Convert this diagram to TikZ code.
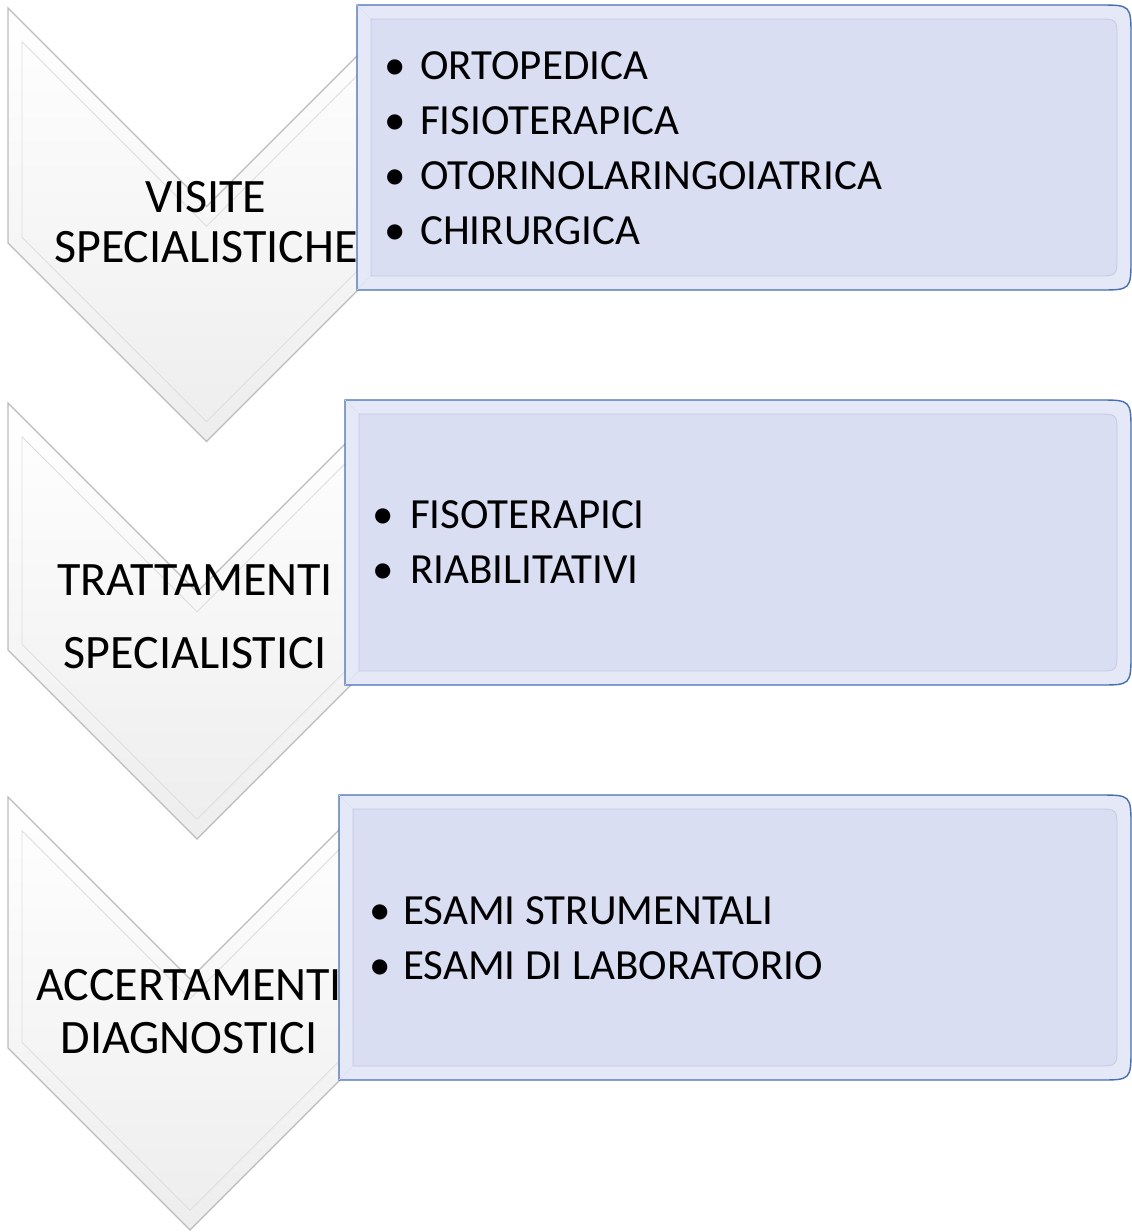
\documentclass[tikz,border=0pt]{standalone}
\usepackage{fontspec}
\setmainfont{Carlito}
\definecolor{boxfill}{RGB}{217,222,242}
\definecolor{boxlight}{RGB}{228,232,247}
\definecolor{boxshade}{RGB}{196,202,226}
\definecolor{boxline}{RGB}{70,110,182}
\definecolor{chevline}{RGB}{188,188,188}
\definecolor{chevinner}{RGB}{222,222,222}

\begin{document}
\begin{tikzpicture}[x=1pt,y=-1pt,
  chevron/.style={draw=chevline, line width=1.2pt, top color=white, bottom color=black!7},
  chevbevel/.style={draw=chevinner, line width=0.8pt},
  listbox/.style={draw=boxline, line width=1.4pt, fill=boxlight},
  boxbevel/.style={draw=boxshade, line width=0.8pt, fill=boxfill},
  chevtext/.style={anchor=north, inner sep=0pt, align=center},
  listtext/.style={anchor=north west, inner sep=0pt, align=left, font=\fontsize{43}{55}\selectfont}]
\useasboundingbox (0,0) rectangle (1132,1232);

% first chevron
\node[coordinate] (c11) at (8,8) {};
\node[coordinate] (c12) at (206.5,206.5) {};
\node[coordinate] (c13) at (405,8) {};
\node[coordinate] (c14) at (405,243) {};
\node[coordinate] (c15) at (206.5,441.5) {};
\node[coordinate] (c16) at (8,243) {};
\draw[chevron] (c11)--(c12)--(c13)--(c14)--(c15)--(c16)--cycle;
\draw[chevbevel] (22,41.8)--(206.5,226.3)--(391,41.8)--(391,237.2)--(206.5,421.7)--(22,237.2)--cycle;

% second chevron
\node[coordinate] (c21) at (8,403) {};
\node[coordinate] (c22) at (197,592) {};
\node[coordinate] (c23) at (386,403) {};
\node[coordinate] (c24) at (386,650) {};
\node[coordinate] (c25) at (197,839) {};
\node[coordinate] (c26) at (8,650) {};
\draw[chevron] (c21)--(c22)--(c23)--(c24)--(c25)--(c26)--cycle;
\draw[chevbevel] (22,436.8)--(197,611.8)--(372,436.8)--(372,644.2)--(197,819.2)--(22,644.2)--cycle;

% third chevron
\node[coordinate] (c31) at (8,797) {};
\node[coordinate] (c32) at (190,979) {};
\node[coordinate] (c33) at (372,797) {};
\node[coordinate] (c34) at (372,1048) {};
\node[coordinate] (c35) at (190,1230) {};
\node[coordinate] (c36) at (8,1048) {};
\draw[chevron] (c31)--(c32)--(c33)--(c34)--(c35)--(c36)--cycle;
\draw[chevbevel] (22,830.8)--(190,998.8)--(358,830.8)--(358,1042.2)--(190,1210.2)--(22,1042.2)--cycle;

\node[chevtext, font=\fontsize{48}{50}\selectfont] (visite) at (206,181) {VISITE\\SPECIALISTICHE};
\node[chevtext, font=\fontsize{48}{73}\selectfont] (tratt) at (195,564) {TRATTAMENTI\\SPECIALISTICI};
\node[chevtext, font=\fontsize{48}{53}\selectfont] (accert) at (189,969) {ACCERTAMENTI\\DIAGNOSTICI};

% boxes
\draw[listbox] (357,5)--(1099,5) .. controls (1131,5) .. (1131,37)--(1131,258) .. controls (1131,290) .. (1099,290)--(357,290)--cycle;
\draw[boxbevel] (371,19)--(1097,19) .. controls (1117,19) .. (1117,39)--(1117,256) .. controls (1117,276) .. (1097,276)--(371,276)--cycle;
\draw[boxshade!60] (357,5)--(371,19) (357,290)--(371,276);

\draw[listbox] (345,400)--(1099,400) .. controls (1131,400) .. (1131,432)--(1131,653) .. controls (1131,685) .. (1099,685)--(345,685)--cycle;
\draw[boxbevel] (359,414)--(1097,414) .. controls (1117,414) .. (1117,434)--(1117,651) .. controls (1117,671) .. (1097,671)--(359,671)--cycle;
\draw[boxshade!60] (345,400)--(359,414) (345,685)--(359,671);

\draw[listbox] (339,795)--(1099,795) .. controls (1131,795) .. (1131,827)--(1131,1048) .. controls (1131,1080) .. (1099,1080)--(339,1080)--cycle;
\draw[boxbevel] (353,809)--(1097,809) .. controls (1117,809) .. (1117,829)--(1117,1046) .. controls (1117,1066) .. (1097,1066)--(353,1066)--cycle;
\draw[boxshade!60] (339,795)--(353,809) (339,1080)--(353,1066);

\node[listtext] (visite list) at (384,51) {\makebox[36pt][l]{•}ORTOPEDICA\\\makebox[36pt][l]{•}FISIOTERAPICA\\\makebox[36pt][l]{•}OTORINOLARINGOIATRICA\\\makebox[36pt][l]{•}CHIRURGICA};
\node[listtext] (tratt list) at (372,500) {\makebox[38pt][l]{•}FISOTERAPICI\\\makebox[38pt][l]{•}RIABILITATIVI};
\node[listtext] (accert list) at (369,896) {\makebox[34pt][l]{•}ESAMI STRUMENTALI\\\makebox[34pt][l]{•}ESAMI DI LABORATORIO};
\end{tikzpicture}
\end{document}
